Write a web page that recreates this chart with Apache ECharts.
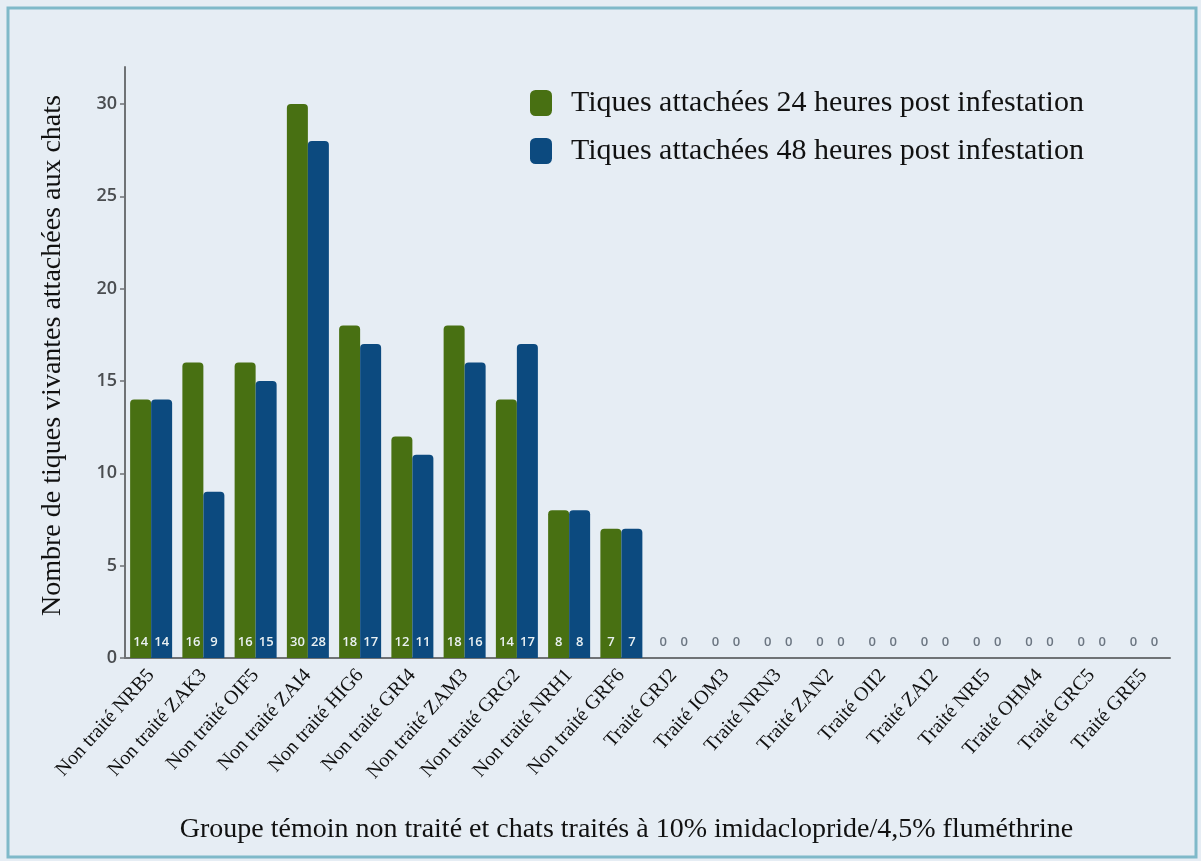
<!doctype html>
<html>
 <head>
  <meta charset="UTF-8">
  <script src="https://cdn.jsdelivr.net/npm/echarts@6/dist/echarts.min.js"></script>
  <title>Tiques attachées</title>
  <style>
   html, body { margin: 0; padding: 0; background: #e6edf4; }
  </style>
 </head>
 <body>
  <div id="chart" style="width: 1201px; height: 861px; margin: 0"></div>
  <script type="text/javascript">
    var categories = ['Non traité NRB5','Non traité ZAK3','Non traité OIF5','Non traité ZAI4','Non traité HIG6',
                      'Non traité GRI4','Non traité ZAM3','Non traité GRG2','Non traité NRH1','Non traité GRF6',
                      'Traité GRJ2','Traité IOM3','Traité NRN3','Traité ZAN2','Traité OII2',
                      'Traité ZAI2','Traité NRI5','Traité OHM4','Traité GRC5','Traité GRE5'];
    var ticks24 = [14,16,16,30,18,12,18,14,8,7,0,0,0,0,0,0,0,0,0,0];
    var ticks48 = [14,9,15,28,17,11,16,17,8,7,0,0,0,0,0,0,0,0,0,0];
    var yTicks = [0,5,10,15,20,25,30];

    var serif = '"Liberation Serif", "DejaVu Serif", serif';
    var sans = '"Open Sans", "DejaVu Sans", sans-serif';

    // zero values get grey labels above the axis, others white inside the bar
    var withLabels = function(arr) {
      return arr.map(function(v) {
        return { value: v, label: { color: v === 0 ? '#6c7682' : '#e9f0f2' } };
      });
    };

    var barLabel = {
      show: true,
      position: 'insideBottom',
      distance: 9,
      fontFamily: sans,
      fontSize: 13,
      fontWeight: 600
    };

    var myChart = echarts.init(document.getElementById('chart'));
    myChart.setOption({
      backgroundColor: '#e6edf4',
      animation: false,
      graphic: [{
        type: 'rect',
        shape: { x: 8, y: 8, width: 1188, height: 849 },
        style: { fill: 'none', stroke: '#7fb9c9', lineWidth: 3 },
        silent: true
      }],
      legend: {
        orient: 'vertical',
        left: 530,
        top: 88,
        padding: 0,
        itemWidth: 22,
        itemHeight: 26,
        itemGap: 18,
        icon: 'roundRect',
        textStyle: { fontFamily: serif, fontSize: 30, color: '#111', padding: [0, 0, 0, 14] },
        data: ['Tiques attachées 24 heures post infestation', 'Tiques attachées 48 heures post infestation']
      },
      grid: { left: 125, right: 31, top: 67, bottom: 203, containLabel: false },
      xAxis: {
        type: 'category',
        data: categories,
        name: 'Groupe témoin non traité et chats traités à 10% imidaclopride/4,5% fluméthrine',
        nameLocation: 'middle',
        nameGap: 158,
        nameTextStyle: { fontFamily: serif, fontSize: 28, color: '#111', padding: [0, 42, 0, 0] },
        axisLine: { lineStyle: { color: '#6f7275', width: 2 } },
        axisTick: { show: false },
        axisLabel: { rotate: 48, interval: 0, margin: 14, fontFamily: serif, fontSize: 20, color: '#111' }
      },
      yAxis: {
        type: 'value',
        min: 0,
        max: 32,
        interval: 5,
        name: 'Nombre de tiques vivantes attachées aux chats',
        nameLocation: 'middle',
        nameGap: 58,
        nameTextStyle: { fontFamily: serif, fontSize: 28, color: '#111', padding: [0, 0, 0, 14] },
        splitLine: { show: false },
        axisLine: { show: true, lineStyle: { color: '#6f7275', width: 2 } },
        axisTick: { show: true, length: 5, lineStyle: { color: '#6f7275', width: 1.5 }, customValues: yTicks },
        axisLabel: { margin: 8, fontFamily: sans, fontSize: 18, fontWeight: 600, color: '#4a4d50', customValues: yTicks }
      },
      series: [{
        name: 'Tiques attachées 24 heures post infestation',
        type: 'bar',
        barWidth: 21,
        barGap: '0%',
        itemStyle: { color: '#487012', borderRadius: [4, 4, 0, 0] },
        label: barLabel,
        data: withLabels(ticks24)
      }, {
        name: 'Tiques attachées 48 heures post infestation',
        type: 'bar',
        barWidth: 21,
        barGap: '0%',
        itemStyle: { color: '#0c4a7f', borderRadius: [4, 4, 0, 0] },
        label: barLabel,
        data: withLabels(ticks48)
      }]
    });
  </script>
 </body>
</html>
